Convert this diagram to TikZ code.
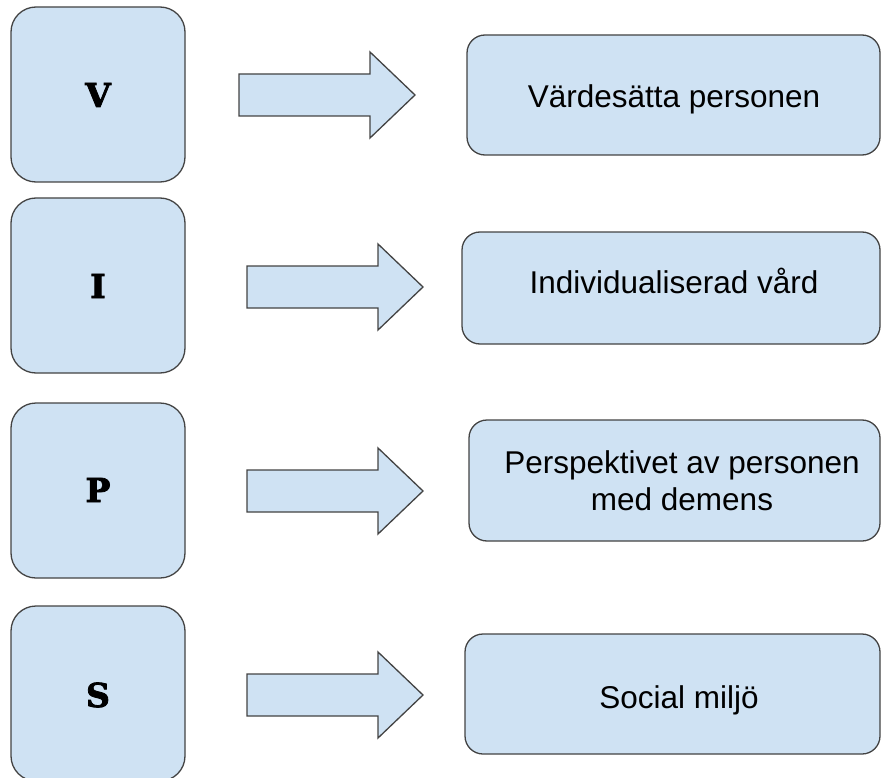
\documentclass[tikz,border=0pt]{standalone}
\usepackage{fontspec}
\setmainfont{Liberation Sans}
\newfontfamily\letterfont[BoldFeatures={FakeBold=2.5}]{DejaVu Serif}
\definecolor{boxfill}{HTML}{CFE2F3}
\definecolor{boxline}{HTML}{434343}
\tikzset{
  shapebox/.style={fill=boxfill, draw=boxline, line width=1.3pt},
  letterbox/.style={shapebox, rounded corners=25pt},
  textbox/.style={shapebox, rounded corners=18pt},
  bigletter/.style={font=\letterfont\bfseries\fontsize{33}{40}\selectfont, anchor=base, inner sep=0pt},
  boxtext/.style={font=\fontsize{31.5}{37}\selectfont, anchor=base, inner sep=0pt, align=center},
}
\newcommand{\blockarrow}[2]{% #1 = left x, #2 = centre y
  \draw[shapebox, line join=miter]
    (#1,#2-21) -- (#1+131,#2-21) -- (#1+131,#2-43) -- (#1+176,#2)
    -- (#1+131,#2+43) -- (#1+131,#2+21) -- (#1,#2+21) -- cycle;
}
\begin{document}
\begin{tikzpicture}[x=1pt,y=-1pt]
\useasboundingbox (0,0) rectangle (883,778);
\begin{scope}
\clip (0,0) rectangle (883,778);
% left letter boxes
\draw[letterbox] (11,7) rectangle (185,182);
\draw[letterbox] (11,198) rectangle (185,373);
\draw[letterbox] (11,403) rectangle (185,578);
\draw[letterbox] (11,606) rectangle (185,781);
\node[bigletter] (lv) at (98,107) {V};
\node[bigletter] (li) at (98,298) {I};
\node[bigletter] (lp) at (98,502) {P};
\node[bigletter] (ls) at (98,707) {S};
% block arrows
\blockarrow{239}{95}
\blockarrow{247}{287}
\blockarrow{247}{491}
\blockarrow{247}{695}
% right text boxes
\draw[textbox] (467,35) rectangle (880,155);
\draw[textbox] (462,232) rectangle (880,344);
\draw[textbox] (469,420) rectangle (880,541);
\draw[textbox] (465,634) rectangle (880,754);
\node[boxtext] (t1) at (674,108) {Värdesätta personen};
\node[boxtext] (t2) at (674,293) {Individualiserad vård};
\node[boxtext] (t3a) at (682,473) {Perspektivet av personen};
\node[boxtext] (t3b) at (682,510) {med demens};
\node[boxtext] (t4) at (679,708) {Social miljö};
\end{scope}
\end{tikzpicture}
\end{document}
